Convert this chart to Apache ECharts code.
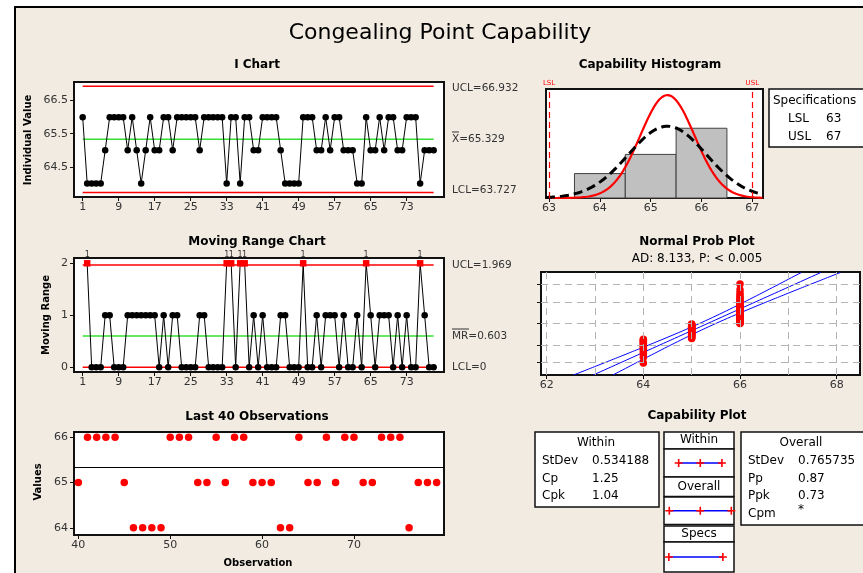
<!DOCTYPE html>
<html lang="en">
  <head>
    <meta charset="UTF-8" />
    <script src="https://cdn.jsdelivr.net/npm/echarts@6/dist/echarts.min.js"></script>
    <title>Congealing Point Capability</title>
    <style>
      html,
      body {
        margin: 0;
        padding: 0;
        background: #fff;
      }
      #app {
        width: 863px;
        height: 573px;
      }
    </style>
  </head>
  <body>
    <div id="app"></div>

    <script>
      // individual observations 1..79
      const values = [
        66, 64, 64, 64, 64, 65, 66, 66, 66, 66,
        65, 66, 65, 64, 65, 66, 65, 65, 66, 66,
        65, 66, 66, 66, 66, 66, 65, 66, 66, 66,
        66, 66, 64, 66, 66, 64, 66, 66, 65, 65,
        66, 66, 66, 66, 65, 64, 64, 64, 64, 66,
        66, 66, 65, 65, 66, 65, 66, 66, 65, 65,
        65, 64, 64, 66, 65, 65, 66, 65, 66, 66,
        65, 65, 66, 66, 66, 64, 65, 65, 65,
      ];
      const obsTicks = [1, 9, 17, 25, 33, 41, 49, 57, 65, 73];
      const last40Ticks = [40, 50, 60, 70];
      const iTicks = [64.5, 65.5, 66.5];
      const mrTicks = [0, 1, 2];
      const lastTicks = [64, 65, 66];
      const histTicks = [63, 64, 65, 66, 67];
      const probTicks = [62, 64, 66, 68];
      const probGridX = [62, 63, 64, 65, 66, 67, 68];
      const probGridPct = [1, 10, 50, 90, 99];

      const histBins = [64, 65, 66];
      const histCounts = [14, 25, 40];

      const iLimits = { lcl: 63.727, mean: 65.329, ucl: 66.932 };
      const mrLimits = { lcl: 0, mean: 0.603, ucl: 1.969 };
      const specs = { lsl: 63, usl: 67 };
      const stdevWithin = 0.534188;
      const stdevOverall = 0.765735;
      const adText = "AD: 8.133, P: < 0.005";

      const withinStats = [
        ["StDev", "0.534188"],
        ["Cp", "1.25"],
        ["Cpk", "1.04"],
      ];
      const overallStats = [
        ["StDev", "0.765735"],
        ["Pp", "0.87"],
        ["Ppk", "0.73"],
        ["Cpm", "*"],
      ];

      const FONT = '"DejaVu Sans", sans-serif';
      const RED = "#ff0000";
      const GREEN = "#33e033";
      const n = values.length;
      const mu = iLimits.mean;

      // inverse normal cdf (Acklam)
      function qnorm(p) {
        const a = [-39.69683028665376, 220.9460984245205, -275.9285104469687, 138.357751867269, -30.66479806614716, 2.506628277459239];
        const b = [-54.47609879822406, 161.5858368580409, -155.6989798598866, 66.80131188771972, -13.28068155288572];
        const c = [-0.007784894002430293, -0.3223964580411365, -2.400758277161838, -2.549732539343734, 4.374664141464968, 2.938163982698783];
        const d = [0.007784695709041462, 0.3224671290700398, 2.445134137142996, 3.754408661907416];
        const pl = 0.02425;
        let q, r;
        if (p < pl) {
          q = Math.sqrt(-2 * Math.log(p));
          return (((((c[0] * q + c[1]) * q + c[2]) * q + c[3]) * q + c[4]) * q + c[5]) /
            ((((d[0] * q + d[1]) * q + d[2]) * q + d[3]) * q + 1);
        }
        if (p > 1 - pl) return -qnorm(1 - p);
        q = p - 0.5;
        r = q * q;
        return ((((((a[0] * r + a[1]) * r + a[2]) * r + a[3]) * r + a[4]) * r + a[5]) * q) /
          (((((b[0] * r + b[1]) * r + b[2]) * r + b[3]) * r + b[4]) * r + 1);
      }

      function pdfCurve(sd, from, to) {
        const pts = [];
        for (let x = from; x <= to + 1e-9; x += 0.02) {
          const y = (n / (sd * Math.sqrt(2 * Math.PI))) * Math.exp(-0.5 * ((x - mu) / sd) ** 2);
          pts.push([x, y]);
        }
        return pts;
      }

      // derived series
      const iData = values.map((v, i) => [i + 1, v]);
      const mrData = [];
      for (let i = 1; i < n; i++) {
        const mr = Math.abs(values[i] - values[i - 1]);
        if (mr > mrLimits.ucl) {
          mrData.push({
            value: [i + 1, mr],
            symbol: "rect",
            itemStyle: { color: RED },
            label: { show: true, formatter: "1", position: "top", distance: 1, fontSize: 8, color: "#333" },
          });
        } else {
          mrData.push([i + 1, mr]);
        }
      }
      const lastData = values.slice(n - 40).map((v, i) => [n - 39 + i, v]);
      const sorted = values.slice().sort((a, b) => a - b);
      const probData = sorted.map((v, i) => [v, qnorm((i + 1 - 0.3) / (n + 0.4))]);
      const zMax = 3.09;
      const fitLine = [], fitLo = [], fitHi = [];
      for (let z = -zMax; z <= zMax + 1e-9; z += 0.05) {
        const x = mu + z * stdevOverall;
        const h = 1.96 * stdevOverall * Math.sqrt(1 / n + (z * z) / (2 * (n - 1)));
        fitLine.push([x, z]);
        fitLo.push([x - h, z]);
        fitHi.push([x + h, z]);
      }

      const chart = echarts.init(document.getElementById("app"));

      const gridBox = { show: true, backgroundColor: "#fff", borderColor: "#111", borderWidth: 2, containLabel: false };
      function xAx(gi, min, max, ticks) {
        return {
          type: "value", gridIndex: gi, min: min, max: max,
          axisLine: { show: true, onZero: false, lineStyle: { color: "#111", width: 1 } },
          axisTick: { show: true, customValues: ticks, length: 4, lineStyle: { color: "#111" } },
          axisLabel: { customValues: ticks, color: "#333", fontSize: 11, fontFamily: FONT, margin: 5 },
          splitLine: { show: false },
        };
      }
      function yAx(gi, min, max, ticks) {
        return {
          type: "value", gridIndex: gi, min: min, max: max,
          axisLine: { show: true, onZero: false, lineStyle: { color: "#111", width: 1 } },
          axisTick: { show: true, customValues: ticks, length: 4, lineStyle: { color: "#111" } },
          axisLabel: { customValues: ticks, color: "#333", fontSize: 11, fontFamily: FONT, margin: 6 },
          splitLine: { show: false },
        };
      }
      function hiddenAx(gi, min, max) {
        return { type: "value", gridIndex: gi, min: min, max: max, show: false };
      }
      function hline(xi, yi, y, color, x0, x1) {
        return {
          type: "line", xAxisIndex: xi, yAxisIndex: yi, symbol: "none", silent: true,
          lineStyle: { color: color, width: 1.5 }, data: [[x0, y], [x1, y]], z: 2,
        };
      }
      function crossLine(gi, pts) {
        return {
          type: "line", xAxisIndex: gi, yAxisIndex: gi, silent: true,
          symbol: "path://M-1,-5H1V-1H5V1H1V5H-1V1H-5V-1H-1Z", symbolSize: 8, showAllSymbol: true,
          itemStyle: { color: RED }, lineStyle: { color: "#0000ff", width: 1.5 },
          data: pts.map((x) => [x, 0]),
        };
      }

      // text helpers
      const g = [];
      function txt(x, y, s, o) {
        o = o || {};
        g.push({
          type: "text", x: x, y: y, rotation: o.rot || 0, silent: true,
          style: {
            text: s, fill: o.color || "#000", fontSize: o.size || 12, fontFamily: FONT,
            fontWeight: o.bold ? "bold" : "normal", align: o.align || "left", verticalAlign: "middle",
          },
        });
      }
      function box(x, y, w, h) {
        g.push({ type: "rect", silent: true, shape: { x: x, y: y, width: w, height: h }, style: { fill: "#fff", stroke: "#111", lineWidth: 1.5 } });
      }
      function bar(x1, x2, y) {
        g.push({ type: "line", silent: true, shape: { x1: x1, y1: y, x2: x2, y2: y }, style: { stroke: "#333", lineWidth: 1 } });
      }

      // frame & background
      g.push({ type: "rect", z: -10, silent: true, shape: { x: 15, y: 7, width: 900, height: 600 }, style: { fill: "#f1ebe2", stroke: "#000", lineWidth: 2 } });

      txt(440, 33, "Congealing Point Capability", { size: 22, align: "center" });
      txt(257, 65, "I Chart", { bold: true, align: "center" });
      txt(257, 242, "Moving Range Chart", { bold: true, align: "center" });
      txt(257, 417, "Last 40 Observations", { bold: true, align: "center" });
      txt(650, 65, "Capability Histogram", { bold: true, align: "center" });
      txt(697, 242, "Normal Prob Plot", { bold: true, align: "center" });
      txt(697, 259, adText, { align: "center" });
      txt(697, 416, "Capability Plot", { bold: true, align: "center" });

      txt(28, 140, "Individual Value", { bold: true, size: 10, rot: Math.PI / 2, align: "center" });
      txt(46, 315, "Moving Range", { bold: true, size: 10, rot: Math.PI / 2, align: "center" });
      txt(38, 482, "Values", { bold: true, size: 10, rot: Math.PI / 2, align: "center" });
      txt(258, 563, "Observation", { bold: true, size: 10, align: "center" });

      const lim = { size: 10.5, color: "#333" };
      txt(452, 88, "UCL=" + iLimits.ucl.toFixed(3), lim);
      txt(452, 139, "X=" + iLimits.mean.toFixed(3), lim);
      bar(452, 459, 132);
      txt(452, 190, "LCL=" + iLimits.lcl.toFixed(3), lim);
      txt(452, 265, "UCL=" + mrLimits.ucl.toFixed(3), lim);
      txt(452, 336, "MR=" + mrLimits.mean.toFixed(3), lim);
      bar(452, 469, 329);
      txt(452, 367, "LCL=" + mrLimits.lcl, lim);

      // specifications box
      box(769, 89, 110, 58);
      txt(773, 101, "Specifications");
      txt(788, 119, "LSL");
      txt(826, 119, String(specs.lsl));
      txt(788, 137, "USL");
      txt(826, 137, String(specs.usl));

      // capability plot text boxes
      box(535, 432, 124, 75);
      txt(596, 443, "Within", { align: "center" });
      withinStats.forEach((r, i) => {
        txt(542, 461 + i * 17.5, r[0]);
        txt(592, 461 + i * 17.5, r[1]);
      });
      box(741, 432, 140, 93);
      txt(801, 443, "Overall", { align: "center" });
      overallStats.forEach((r, i) => {
        txt(748, 461 + i * 17.5, r[0]);
        txt(798, 461 + i * 17.5 - (r[1] === "*" ? 4 : 0), r[1]);
      });
      box(664, 432, 70, 17);
      txt(699, 440, "Within", { align: "center" });
      box(664, 449, 70, 28);
      box(664, 477, 70, 19.5);
      txt(699, 487, "Overall", { align: "center" });
      box(664, 497, 70, 27.5);
      box(664, 526, 70, 16);
      txt(699, 534, "Specs", { align: "center" });
      box(664, 542, 70, 30);

      const capMin = mu - 36.3 / 13.5;
      const capMax = capMin + 70 / 13.5;

      chart.setOption({
        animation: false,
        backgroundColor: "#fff",
        textStyle: { fontFamily: FONT },
        grid: [
          Object.assign({ left: 74, top: 82, width: 370, height: 115 }, gridBox),
          Object.assign({ left: 74, top: 258, width: 370, height: 114 }, gridBox),
          Object.assign({ left: 74, top: 432, width: 370, height: 103 }, gridBox),
          Object.assign({ left: 546, top: 89, width: 217, height: 109 }, gridBox),
          Object.assign({ left: 541, top: 272, width: 319, height: 103 }, gridBox),
          { left: 664, top: 449, width: 70, height: 28, show: false },
          { left: 664, top: 497, width: 70, height: 27.5, show: false },
          { left: 664, top: 542, width: 70, height: 30, show: false },
        ],
        xAxis: [
          xAx(0, -0.93, 81.3, obsTicks),
          xAx(1, -0.93, 81.3, obsTicks),
          xAx(2, 39.53, 79.8, last40Ticks),
          xAx(3, 62.94, 67.21, histTicks),
          xAx(4, 61.882, 68.483, probTicks),
          hiddenAx(5, capMin, capMax),
          hiddenAx(6, capMin, capMax),
          hiddenAx(7, capMin, capMax),
        ],
        yAxis: [
          yAx(0, 63.59, 67.06, iTicks),
          yAx(1, -0.09, 2.102, mrTicks),
          yAx(2, 63.84, 66.116, lastTicks),
          hiddenAx(3, 0, 62.5),
          Object.assign(yAx(4, -zMax, zMax, probGridPct.map((p) => qnorm(p / 100))), {
            axisLabel: { show: false },
          }),
          hiddenAx(5, -1, 1),
          hiddenAx(6, -1, 1),
          hiddenAx(7, -1, 1),
        ],
        graphic: g,
        series: [
          // I chart
          hline(0, 0, iLimits.ucl, RED, 1, n),
          hline(0, 0, iLimits.lcl, RED, 1, n),
          hline(0, 0, iLimits.mean, GREEN, 1, n),
          {
            type: "line", xAxisIndex: 0, yAxisIndex: 0, data: iData, z: 3,
            symbol: "circle", symbolSize: 6.5, showAllSymbol: true,
            itemStyle: { color: "#000" }, lineStyle: { color: "#000", width: 1 },
          },
          // MR chart
          hline(1, 1, mrLimits.ucl, RED, 1, n),
          hline(1, 1, mrLimits.lcl, RED, 1, n),
          hline(1, 1, mrLimits.mean, GREEN, 1, n),
          {
            type: "line", xAxisIndex: 1, yAxisIndex: 1, data: mrData, z: 3, clip: false,
            symbol: "circle", symbolSize: 6.5, showAllSymbol: true,
            itemStyle: { color: "#000" }, lineStyle: { color: "#000", width: 1 },
          },
          // last 40
          {
            type: "scatter", xAxisIndex: 2, yAxisIndex: 2, data: lastData, symbolSize: 7.5,
            itemStyle: { color: RED, opacity: 1 },
            markLine: {
              silent: true, symbol: "none", label: { show: false },
              lineStyle: { color: "#000", width: 1, type: "solid" },
              data: [{ yAxis: mu }],
            },
          },
          // histogram
          {
            type: "custom", xAxisIndex: 3, yAxisIndex: 3,
            data: histBins.map((b, i) => [b - 0.5, b + 0.5, histCounts[i]]),
            encode: { x: [0, 1], y: 2 },
            renderItem(params, api) {
              const p0 = api.coord([api.value(0), api.value(2)]);
              const p1 = api.coord([api.value(1), 0]);
              return {
                type: "rect",
                shape: { x: p0[0], y: p0[1], width: p1[0] - p0[0], height: p1[1] - p0[1] },
                style: { fill: "#c0c0c0", stroke: "#404040", lineWidth: 1 },
              };
            },
          },
          {
            type: "line", xAxisIndex: 3, yAxisIndex: 3, symbol: "none",
            data: pdfCurve(stdevWithin, 62.94, 67.21), lineStyle: { color: RED, width: 2.2 },
          },
          {
            type: "line", xAxisIndex: 3, yAxisIndex: 3, symbol: "none",
            data: pdfCurve(stdevOverall, 62.94, 67.21),
            lineStyle: { color: "#000", width: 3, type: [9, 5] },
            markLine: {
              silent: true, symbol: "none",
              lineStyle: { color: RED, width: 1.2, type: [6, 4] },
              label: { show: true, position: "end", fontSize: 7, color: RED, distance: 2 },
              data: [
                { xAxis: specs.lsl, label: { formatter: "LSL" } },
                { xAxis: specs.usl, label: { formatter: "USL" } },
              ],
            },
          },
          // normal probability plot
          {
            type: "line", xAxisIndex: 4, yAxisIndex: 4, data: [], z: 1,
            markLine: {
              silent: true, symbol: "none", label: { show: false },
              lineStyle: { color: "#b4b4b4", width: 1, type: [7, 5] },
              data: probGridX.map((x) => ({ xAxis: x })).concat(
                probGridPct.map((p) => ({ yAxis: qnorm(p / 100) }))
              ),
            },
          },
          {
            type: "line", xAxisIndex: 4, yAxisIndex: 4, data: fitLine, symbol: "none", z: 3,
            lineStyle: { color: "#0000ff", width: 1 },
          },
          {
            type: "line", xAxisIndex: 4, yAxisIndex: 4, data: fitLo, symbol: "none", z: 3,
            lineStyle: { color: "#0000ff", width: 1 },
          },
          {
            type: "line", xAxisIndex: 4, yAxisIndex: 4, data: fitHi, symbol: "none", z: 3,
            lineStyle: { color: "#0000ff", width: 1 },
          },
          {
            type: "line", xAxisIndex: 4, yAxisIndex: 4, data: probData, z: 4,
            symbol: "circle", symbolSize: 7.5, showAllSymbol: true,
            itemStyle: { color: RED, borderWidth: 0 }, lineStyle: { opacity: 0 },
          },
          // capability plot intervals
          crossLine(5, [mu - 3 * stdevWithin, mu, mu + 3 * stdevWithin]),
          crossLine(6, [mu - 3 * stdevOverall, mu, mu + 3 * stdevOverall]),
          crossLine(7, [specs.lsl, specs.usl]),
        ],
      });
    </script>
  </body>
</html>
